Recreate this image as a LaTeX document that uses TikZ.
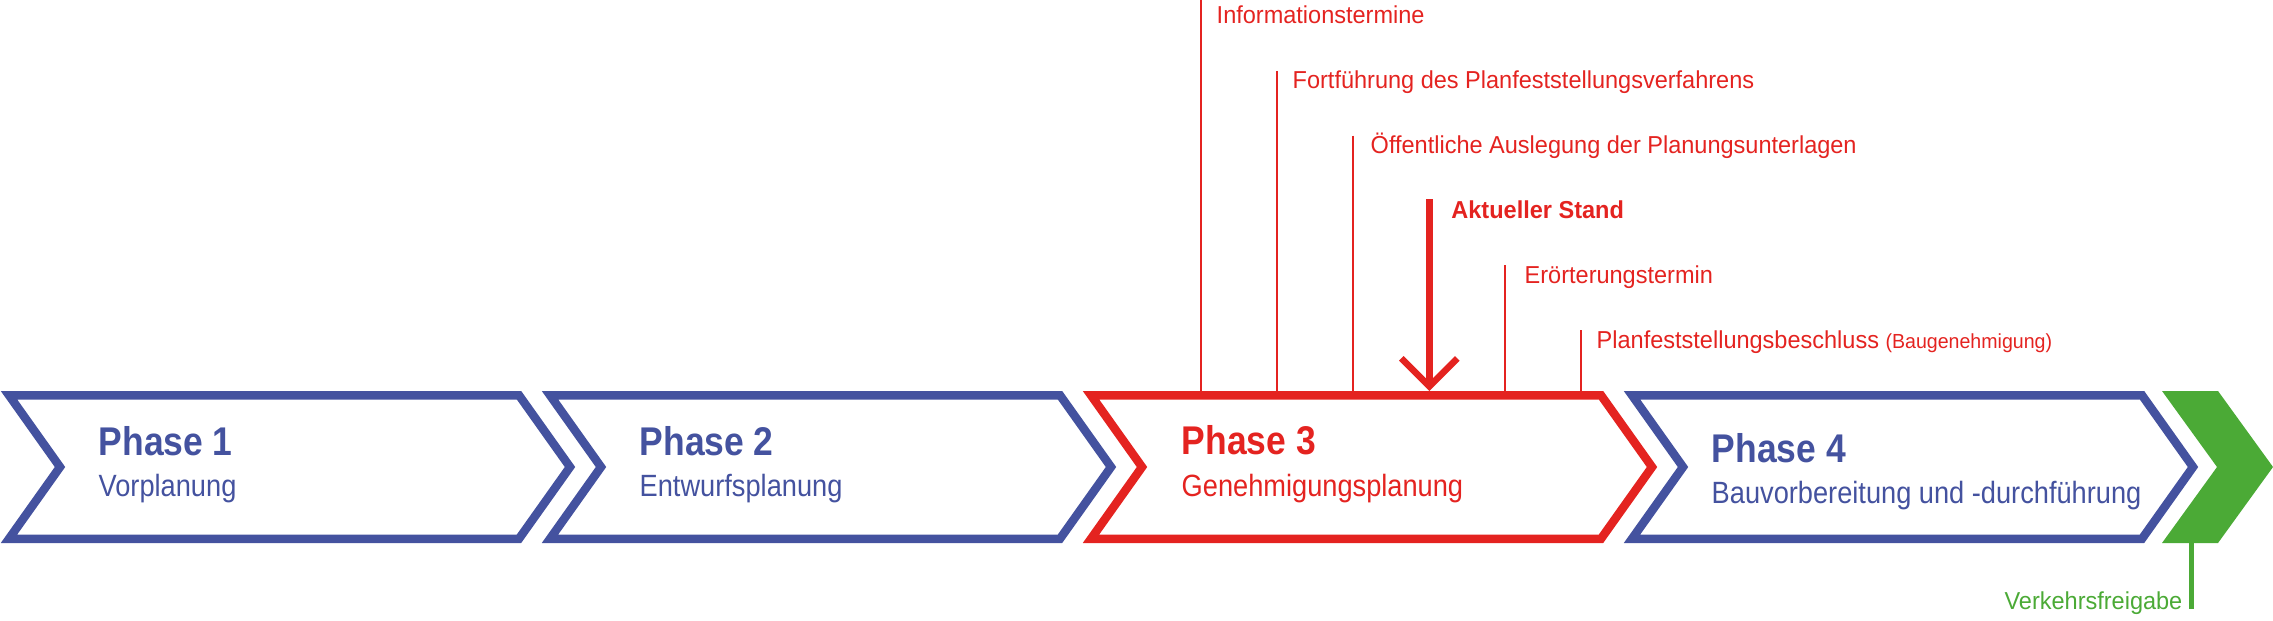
\documentclass[tikz,border=0pt]{standalone}
\usepackage{fontspec}
\setmainfont{Liberation Sans}
\newfontfamily\labelfont[FakeStretch=0.96]{Liberation Sans}
\newfontfamily\phasefont[FakeStretch=0.885]{Liberation Sans}
\usetikzlibrary{arrows.meta}

\definecolor{phaseblue}{RGB}{68,82,159}
\definecolor{phasered}{RGB}{228,35,32}
\definecolor{phasegreen}{RGB}{75,170,54}

\tikzset{
    chevron/.style={line width=0.85mm, line join=miter},
    tick/.style={line width=0.15mm, draw=phasered},
    steplabel/.style={anchor=base west, inner sep=0pt, text=phasered, font=\labelfont\fontsize{6.97pt}{8pt}\selectfont},
    phasetitle/.style={anchor=base west, inner sep=0pt, font=\phasefont\bfseries\fontsize{11.4pt}{13pt}\selectfont},
    phasesub/.style={anchor=base west, inner sep=0pt, font=\phasefont\fontsize{8.75pt}{10pt}\selectfont},
}

\begin{document}
\begin{tikzpicture}[x=0.1mm, y=-0.1mm]
    \useasboundingbox (0,0) rectangle (2273,620);

    % phases
    \foreach \o/\col in {0/phaseblue, 541/phaseblue, 1082/phasered, 1623/phaseblue}
        \draw[chevron, draw=\col] (\o+9,395.25) -- ++(510,0) -- ++(51,71.75) -- ++(-51,71.75) -- ++(-510,0) -- ++(51,-71.75) -- cycle;
    \fill[phasegreen] (2162,391) -- (2218,391) -- (2273,467) -- (2218,543) -- (2162,543) -- (2217,467) -- cycle;

    \node[phasetitle, text=phaseblue] (ph1) at (98,455) {Phase 1};
    \node[phasesub, text=phaseblue] (ph1sub) at (98,496) {Vorplanung};
    \node[phasetitle, text=phaseblue] (ph2) at (639,455) {Phase 2};
    \node[phasesub, text=phaseblue] (ph2sub) at (639,496) {Entwurfsplanung};
    \node[phasetitle, text=phasered] (ph3) at (1181,454) {Phase 3};
    \node[phasesub, text=phasered] (ph3sub) at (1181,496) {Genehmigungsplanung};
    \node[phasetitle, text=phaseblue] (ph4) at (1711,462) {Phase 4};
    \node[phasesub, text=phaseblue] (ph4sub) at (1711,503) {Bauvorbereitung und -durchführung};

    % steps of phase 3
    \coordinate (ph3top) at (1200,391);
    \coordinate (t1) at (1201,0);
    \coordinate (t2) at (1277,70.8);
    \coordinate (t3) at (1353,135.6);
    \coordinate (now) at (1429.3,199);
    \coordinate (t5) at (1505,265.2);
    \coordinate (t6) at (1581,330);

    \node[steplabel] (info) at (1216,24) {Informationstermine};
    \node[steplabel] (fort) at (1292,88.8) {Fortführung des Planfeststellungsverfahrens};
    \node[steplabel] (ausl) at (1370,153.6) {Öffentliche Auslegung der Planungsunterlagen};
    \node[steplabel, font=\labelfont\bfseries\fontsize{6.97pt}{8pt}\selectfont] (stand) at (1450.7,218.4) {Aktueller Stand};
    \node[steplabel] (eroe) at (1524,283.2) {Erörterungstermin};
    \node[steplabel] (pfb) at (1596,348) {Planfeststellungsbeschluss {\fontsize{5.8pt}{6pt}\selectfont(Baugenehmigung)}};

    \foreach \t in {t1,t2,t3,t5,t6}
        \draw[tick] (\t) -- (\t |- ph3top);
    \draw[line width=0.65mm, draw=phasered, -{Straight Barb[length=2.8mm, width=5.6mm]}] (now) -- (now |- ph3top);

    % opening
    \coordinate (open) at (2191.5,543);
    \node[steplabel, anchor=base east, text=phasegreen] (vkf) at (2183,609) {Verkehrsfreigabe};
    \draw[line width=0.5mm, draw=phasegreen] (open) -- (open |- vkf.base);
\end{tikzpicture}
\end{document}
